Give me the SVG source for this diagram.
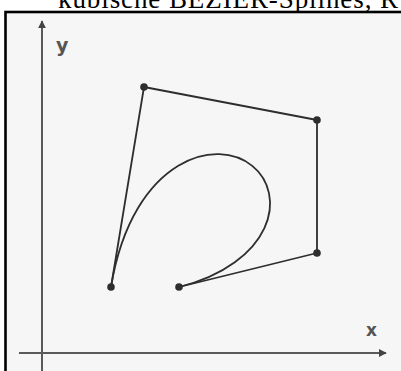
<svg xmlns="http://www.w3.org/2000/svg" width="401" height="371" viewBox="0 0 401 371">
<style>
.poly{fill:none;stroke:#2e2e2e;stroke-width:1.8;stroke-linejoin:round}
.curve{fill:none;stroke:#2e2e2e;stroke-width:1.8}
.axis{fill:none;stroke:#5a5a5a;stroke-width:2}
.pt{fill:#2e2e2e}
.lbl{font-family:"DejaVu Sans",sans-serif;fill:#555}
.head{font-family:"Liberation Serif",serif;font-size:27px;fill:#000}
</style>
<defs>
<marker id="arr" viewBox="0 0 10 10" refX="9" refY="5" markerWidth="4" markerHeight="4" orient="auto" markerUnits="strokeWidth">
<path d="M0,0 L10,5 L0,10 z" fill="#444"/>
</marker>
</defs>
<rect width="401" height="371" fill="#fff"/>
<text class="head" x="58" y="8" textLength="340" lengthAdjust="spacing">kubische BEZIER-Splines, R</text>
<rect x="5.5" y="12" width="400" height="370" fill="#f6f6f6" stroke="#000" stroke-width="2.6"/>
<g id="axes">
<line class="axis" x1="42" y1="371" x2="42" y2="21" marker-end="url(#arr)"/>
<line class="axis" x1="19" y1="353" x2="386" y2="353" marker-end="url(#arr)"/>
<text class="lbl" x="56" y="52" font-size="19" font-weight="bold">y</text>
<text class="lbl" x="366" y="336" font-size="17" font-weight="bold">x</text>
</g>
<g id="connectors">
<polyline class="poly" points="111,287 144,87 317,120 317,253 179,287"/>
<path class="curve" d="M111,287 C122,220.3 150.05,182.9 178.3,165.8 C206.55,148.7 235,152 252.25,165.9 C269.5,179.7 275.55,204.1 264.4,228.05 C253.3,252 225,275.7 179,287"/>
</g>
<g id="P0"><circle class="pt" cx="111" cy="287" r="3.8"/></g>
<g id="P1"><circle class="pt" cx="144" cy="87" r="3.8"/></g>
<g id="P2"><circle class="pt" cx="317" cy="120" r="3.8"/></g>
<g id="P3"><circle class="pt" cx="317" cy="253" r="3.8"/></g>
<g id="P4"><circle class="pt" cx="179" cy="287" r="3.8"/></g>
</svg>
